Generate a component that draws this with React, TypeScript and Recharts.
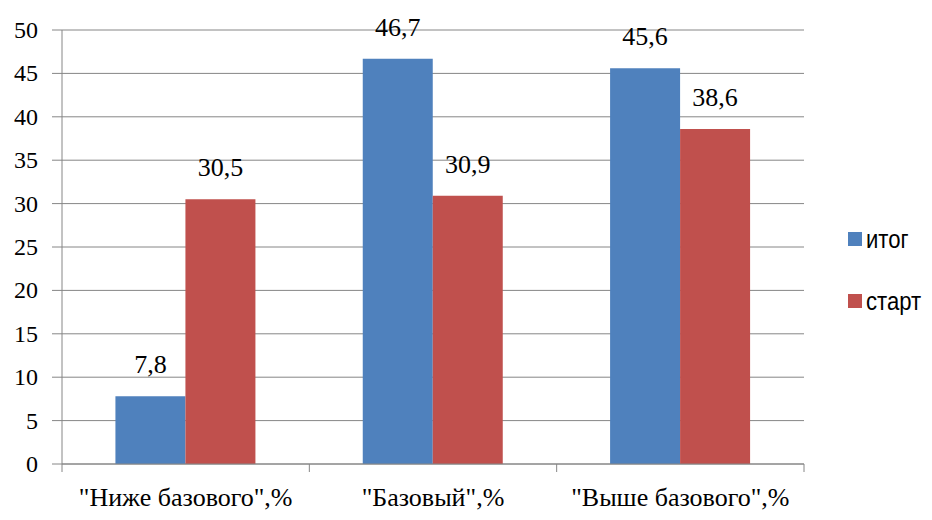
import React from 'react';
import {
  BarChart,
  Bar,
  XAxis,
  YAxis,
  CartesianGrid,
  Legend,
  LabelList
} from 'recharts';

const categories = ['"Ниже базового",%', '"Базовый",%', '"Выше базового",%'];
const itogValues = [7.8, 46.7, 45.6];
const startValues = [30.5, 30.9, 38.6];
const yTicks = [0, 5, 10, 15, 20, 25, 30, 35, 40, 45, 50];
const seriesNames = ['итог', 'старт'];

const data = categories.map((name, i) => ({
  name,
  itog: itogValues[i],
  start: startValues[i]
}));

const WIDTH = 932;
const HEIGHT = 520;
const MARGIN = { top: 30, right: 128, bottom: 0, left: 0 };
const X_AXIS_HEIGHT = 56;
const Y_AXIS_WIDTH = 62;
const PLOT_WIDTH = WIDTH - MARGIN.left - MARGIN.right - Y_AXIS_WIDTH;
const STEP = PLOT_WIDTH / categories.length;

const BLUE = '#4F81BD';
const RED = '#C0504D';
const GRID = '#868686';

const css = `
  .serif-text { font-family: "Liberation Serif", "Times New Roman", serif !important; fill: #000; }
  .legend-text { font-family: "Liberation Sans", Arial, sans-serif !important; }
`;

const fmt = (v: any) => String(v).replace('.', ',');

function CategoryTick(props: any) {
  const { x, y, payload, index } = props;
  return (
    <g>
      <line x1={x - STEP / 2} y1={y} x2={x - STEP / 2} y2={y + 8} stroke={GRID} />
      {index === categories.length - 1 && (
        <line x1={x + STEP / 2} y1={y} x2={x + STEP / 2} y2={y + 8} stroke={GRID} />
      )}
      <text className="serif-text" x={x} y={y + 42} textAnchor="middle" fontSize={26}>
        {payload.value}
      </text>
    </g>
  );
}

function ValueTick(props: any) {
  const { x, y, payload } = props;
  return (
    <text className="serif-text" x={x} y={y + 8} textAnchor="end" fontSize={24}>
      {payload.value}
    </text>
  );
}

function BarLabel(props: any) {
  const { x, y, width, value } = props;
  return (
    <text className="serif-text" x={x + width / 2} y={y - 23} textAnchor="middle" fontSize={26}>
      {fmt(value)}
    </text>
  );
}

function renderLegend() {
  const colors = [BLUE, RED];
  return (
    <div className="legend-text" style={{ fontSize: 26, color: '#000' }}>
      {seriesNames.map((s, i) => (
        <div key={s} style={{ display: 'flex', alignItems: 'center', height: 62 }}>
          <span
            style={{
              display: 'inline-block',
              width: 14,
              height: 14,
              background: colors[i],
              marginRight: 4
            }}
          />
          <span style={{ display: 'inline-block', transform: 'scaleX(0.85)', transformOrigin: 'left center' }}>
            {s}
          </span>
        </div>
      ))}
    </div>
  );
}

export default function App(): React.ReactElement {
  return (
    <div style={{ position: 'absolute', left: 0, top: 0, background: '#fff' }}>
      <style>{css}</style>
      <BarChart
        width={WIDTH}
        height={HEIGHT}
        data={data}
        margin={MARGIN}
        barCategoryGap="21.6%"
        barGap={0}
      >
        <CartesianGrid vertical={false} stroke={GRID} />
        <XAxis
          dataKey="name"
          height={X_AXIS_HEIGHT}
          stroke={GRID}
          tickLine={false}
          tickSize={0}
          tickMargin={0}
          tick={<CategoryTick />}
          interval={0}
        />
        <YAxis
          width={Y_AXIS_WIDTH}
          domain={[0, 50]}
          ticks={yTicks}
          stroke={GRID}
          tickSize={10}
          tickMargin={14}
          tick={<ValueTick />}
        />
        <Legend
          layout="horizontal"
          verticalAlign="middle"
          align="center"
          content={renderLegend}
          wrapperStyle={{ left: 848, top: 208, width: 84 }}
        />
        <Bar dataKey="itog" name={seriesNames[0]} fill={BLUE} isAnimationActive={false}>
          <LabelList dataKey="itog" content={<BarLabel />} />
        </Bar>
        <Bar dataKey="start" name={seriesNames[1]} fill={RED} isAnimationActive={false}>
          <LabelList dataKey="start" content={<BarLabel />} />
        </Bar>
      </BarChart>
    </div>
  );
}
